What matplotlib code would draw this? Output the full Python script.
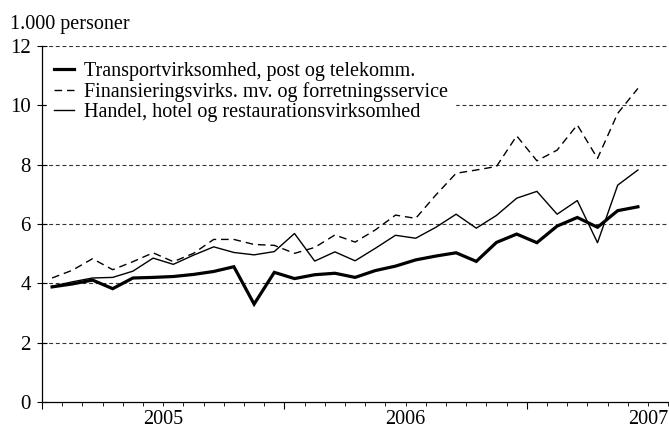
import numpy as np
import matplotlib
matplotlib.use("Agg")
import matplotlib.pyplot as plt

##------------------------------------------------------------------##
# data (1.000 personer), monthly from Jan 2005 to Jun 2007

start_year = 2005
years = ['2005', '2006', '2007']

transport = [3.88, 3.98, 4.11, 3.82, 4.18, 4.20, 4.23, 4.30, 4.40, 4.56,
             3.30, 4.37, 4.16, 4.29, 4.34, 4.20, 4.43, 4.58, 4.79, 4.92,
             5.03, 4.74, 5.38, 5.66, 5.37, 5.93, 6.22, 5.89, 6.45, 6.58]

finans = [4.18, 4.44, 4.83, 4.46, 4.73, 5.03, 4.73, 5.01, 5.48, 5.48,
          5.31, 5.28, 5.01, 5.21, 5.63, 5.39, 5.80, 6.30, 6.19, 6.98,
          7.71, 7.82, 7.94, 8.97, 8.13, 8.49, 9.34, 8.21, 9.73, 10.57]

handel = [3.90, 4.05, 4.18, 4.20, 4.41, 4.85, 4.64, 4.95, 5.23, 5.04,
          4.96, 5.07, 5.68, 4.75, 5.06, 4.76, 5.18, 5.62, 5.52, 5.89,
          6.33, 5.86, 6.29, 6.87, 7.10, 6.33, 6.79, 5.37, 7.31, 7.82]

labels = ['Transportvirksomhed, post og telekomm.',
          'Finansieringsvirks. mv. og forretningsservice',
          'Handel, hotel og restaurationsvirksomhed']

##------------------------------------------------------------------##
# figure setup

plt.rcParams['font.family'] = ['Liberation Serif', 'DejaVu Serif']
plt.rcParams['font.size'] = 15

fig = plt.figure(figsize=(6.69, 4.28), dpi=100)
ax = fig.add_axes([42/669, 26/428, 627/669, 356/428])

# month centres
x = np.arange(len(transport)) + 0.5

ax.plot(x, transport, color='black', lw=2.3, solid_joinstyle='miter', label=labels[0])
ax.plot(x, finans, color='black', lw=1.0, dashes=(5.5, 3.5), label=labels[1])
ax.plot(x, handel, color='black', lw=1.0, label=labels[2])

# axes limits
ax.set_ylim(0, 12)
ax.set_xlim(0, 627/20.2)

# y grid / ticks
ax.set_yticks(range(0, 13, 2))
for yv in range(2, 13, 2):
    ax.axhline(yv, color='#333333', lw=0.8, ls=(0, (3.5, 2.5)), zorder=0)
ax.tick_params(axis='y', direction='inout', length=7, width=0.8, pad=4.5, labelsize=15)

# x ticks: year boundaries (major), months (minor), year labels at mid-year
ax.set_xticks([0, 12, 24])
ax.set_xticklabels(['', '', ''])
minor = list(range(0, 32))
ax.set_xticks(minor, minor=True)
ax.set_xticklabels([years[(m - 6)//12] if m % 12 == 6 else '' for m in minor], minor=True)
ax.tick_params(axis='x', which='major', direction='out', length=5, width=0.8)
ax.tick_params(axis='x', which='minor', direction='out', length=3, width=0.6, pad=3, labelsize=14.5)

for s in ['top', 'right']:
    ax.spines[s].set_visible(False)
ax.spines['left'].set_linewidth(0.9)
ax.spines['bottom'].set_linewidth(0.9)

# legend
leg = ax.legend(loc='upper left', bbox_to_anchor=(0.008, 0.975), frameon=True,
                fancybox=False, edgecolor='white', facecolor='white', framealpha=1,
                handlelength=1.0, handletextpad=0.5, labelspacing=0.05,
                borderpad=0.35, borderaxespad=0, fontsize=14.5)

fig.text(10/669, 1 - 29/428, '1.000 personer', fontsize=14.5, va='baseline', ha='left')

fig.savefig('out.png', dpi=100)
